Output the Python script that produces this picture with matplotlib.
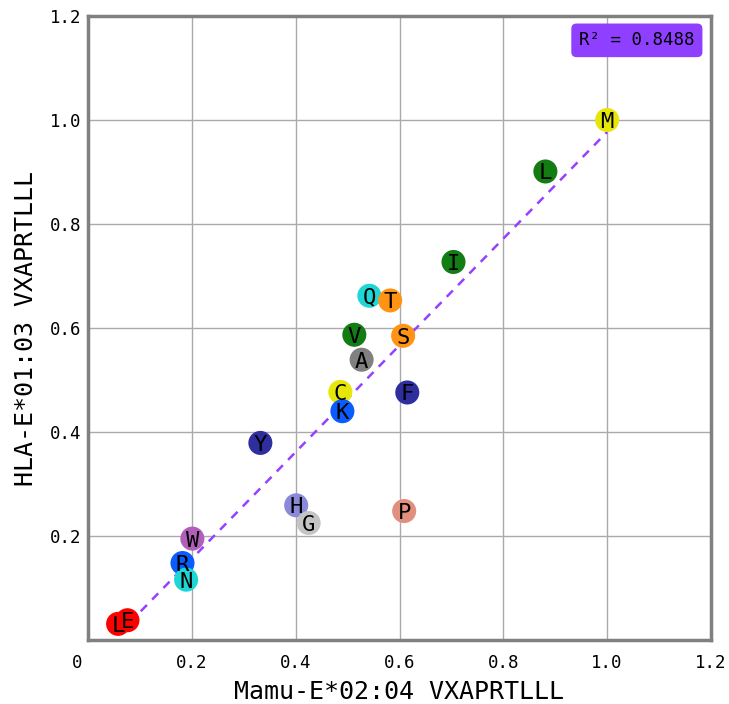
import numpy as np
import matplotlib
matplotlib.use("Agg")
import matplotlib.pyplot as plt
from matplotlib.transforms import ScaledTranslation

labels = ["M", "L", "I", "Q", "T", "V", "S", "A", "C", "K", "F", "Y",
          "H", "G", "P", "W", "R", "N", "L", "E"]
mamu = [1.0, 0.881, 0.704, 0.542, 0.582, 0.513, 0.607, 0.527, 0.486, 0.490,
        0.615, 0.332, 0.401, 0.425, 0.609, 0.201, 0.182, 0.189, 0.058, 0.076]
hla = [1.0, 0.901, 0.727, 0.662, 0.653, 0.587, 0.585, 0.539, 0.477, 0.440,
       0.476, 0.379, 0.259, 0.225, 0.248, 0.195, 0.148, 0.116, 0.031, 0.038]
colors = ["#e6e60a", "#137d13", "#137d13", "#1fd6d6", "#ff9414", "#137d13",
          "#ff9414", "#808080", "#e6e60a", "#0a5cff", "#2e2e9e", "#2e2e9e",
          "#8a8ad8", "#c4c4c4", "#e0907c", "#b060b8", "#0a5cff", "#1fd6d6",
          "#ff0000", "#ff0000"]
r2_text = "R² = 0.8488"
xlabel = "Mamu-E*02:04 VXAPRTLLL"
ylabel = "HLA-E*01:03 VXAPRTLLL"
ticks = [0.2, 0.4, 0.6, 0.8, 1.0, 1.2]

plt.rcParams["font.family"] = ["DejaVu Sans Mono"]

fig = plt.figure(figsize=(7.29, 7.04), dpi=100)
ax = fig.add_axes([88/729, 1-640/704, (711-88)/729, (640-16)/704])
ax.set_xlim(0, 1.2)
ax.set_ylim(0, 1.2)

x = np.array(mamu)
y = np.array(hla)
slope, icpt = np.polyfit(x, y, 1)
xs = np.array([x.min(), x.max()])
ax.plot(xs, slope*xs + icpt, linestyle=(0, (3.5, 3)), color="#9442ff", lw=1.8, zorder=2)

ax.scatter(x, y, s=300, c=colors, edgecolors="none", zorder=3)
for lab, xi, yi in zip(labels, x, y):
    ax.text(xi, yi, lab, ha="center", va="center_baseline", fontsize=16, color="black", zorder=4)

ax.set_xticks(ticks)
ax.set_yticks(ticks)
ax.set_xticklabels([f"{t:.1f}" for t in ticks], fontsize=12.5)
ax.set_yticklabels([f"{t:.1f}" for t in ticks], fontsize=12.5)
ax.tick_params(axis="x", length=0, pad=10)
ax.tick_params(axis="y", length=0, pad=5)
ax.text(0, 0, "0", fontsize=12.5, ha="center", va="top",
        transform=ax.transData + ScaledTranslation(-11/100, -10/72, fig.dpi_scale_trans))
ax.grid(True, color="#aaaaaa", lw=1)
ax.set_axisbelow(True)
for sp in ax.spines.values():
    sp.set_color("#808080")
    sp.set_linewidth(2.5)

ax.set_xlabel(xlabel, fontsize=18, labelpad=6)
ax.set_ylabel(ylabel, fontsize=18, labelpad=8)

ax.text(0.881, 0.961, r2_text, transform=ax.transAxes, ha="center", va="center",
        fontsize=12.5, color="black",
        bbox=dict(boxstyle="round,pad=0.45,rounding_size=0.3", fc="#8f3fff", ec="none"))

fig.savefig("out.png", dpi=100)
